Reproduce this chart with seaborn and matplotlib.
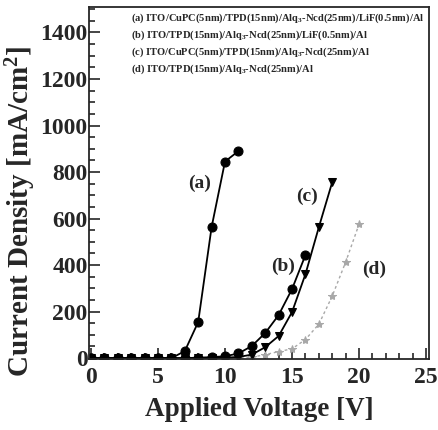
import matplotlib
matplotlib.use("Agg")
import matplotlib.pyplot as plt
from matplotlib.ticker import MultipleLocator
import seaborn as sns

# data (V, mA/cm^2)
volt_a = [0, 1, 2, 3, 4, 5, 6, 7, 8, 9, 10, 11]
cur_a = [0, 0, 0, 0, 0, 0, 0, 30, 155, 563, 845, 890]

volt_b = [0, 1, 2, 3, 4, 5, 6, 7, 8, 9, 10, 11, 12, 13, 14, 15, 16]
cur_b = [0, 0, 0, 0, 0, 0, 0, 0, 2, 4, 8, 20, 52, 108, 185, 297, 443]

volt_c = [0, 1, 2, 3, 4, 5, 6, 7, 8, 9, 10, 11, 12, 13, 14, 15, 16, 17, 18]
cur_c = [0, 0, 0, 0, 0, 0, 0, 0, 0, 0, 2, 5, 15, 47, 95, 198, 361, 563, 757]

volt_d = [0, 1, 2, 3, 4, 5, 6, 7, 8, 9, 10, 11, 12, 13, 14, 15, 16, 17, 18, 19, 20]
cur_d = [0, 0, 0, 0, 0, 0, 0, 0, 0, 0, 0, 0, 4, 15, 28, 40, 80, 146, 267, 413, 576]

legend_lines = [
    r"(a) ITO/CuPC(5nm)/TPD(15nm)/Alq$_3$-Ncd(25nm)/LiF(0.5nm)/Al",
    r"(b) ITO/TPD(15nm)/Alq$_3$-Ncd(25nm)/LiF(0.5nm)/Al",
    r"(c) ITO/CuPC(5nm)/TPD(15nm)/Alq$_3$-Ncd(25nm)/Al",
    r"(d) ITO/TPD(15nm)/Alq$_3$-Ncd(25nm)/Al",
]
curve_labels = ["(a)", "(b)", "(c)", "(d)"]
label_pos = [(8.1, 753), (14.3, 396), (16.1, 697), (21.1, 383)]

sns.set_style("ticks")
plt.rcParams["font.family"] = ["Liberation Serif", "DejaVu Serif"]
plt.rcParams["font.weight"] = "bold"
plt.rcParams["axes.labelweight"] = "bold"
plt.rcParams["mathtext.fontset"] = "custom"
plt.rcParams["mathtext.rm"] = "Liberation Serif:bold"
plt.rcParams["mathtext.it"] = "Liberation Serif:bold"
plt.rcParams["mathtext.bf"] = "Liberation Serif:bold"

fig = plt.figure(figsize=(4.38, 4.30), dpi=100)
ax = fig.add_axes([0.203, 0.165, 0.776, 0.819])

sns.lineplot(x=volt_d, y=cur_d, ax=ax, color="#a8a8a8", linestyle=(0, (2, 2)),
             marker="*", markersize=6, markeredgecolor="#a8a8a8", linewidth=1)
sns.lineplot(x=volt_c, y=cur_c, ax=ax, color="black", marker="v",
             markersize=6, markeredgecolor="black", linewidth=1.3)
sns.lineplot(x=volt_b, y=cur_b, ax=ax, color="black", marker="o",
             markersize=6.5, markeredgecolor="black", linewidth=1.3)
sns.lineplot(x=volt_a, y=cur_a, ax=ax, color="black", marker="o",
             markersize=6.5, markeredgecolor="black", linewidth=1.3)

for lab, (px, py) in zip(curve_labels, label_pos):
    ax.text(px, py, lab, fontsize=14, fontweight="bold", ha="center", va="center")

for i, line in enumerate(legend_lines):
    ax.text(0.124, 0.969 - i * 0.0485, line, transform=ax.transAxes,
            fontsize=7.6, fontweight="bold", ha="left", va="center")

ax.set_xlim(-0.15, 25.2)
ax.set_ylim(-4, 1510)
ax.xaxis.set_major_locator(MultipleLocator(5))
ax.xaxis.set_minor_locator(MultipleLocator(1))
ax.yaxis.set_major_locator(MultipleLocator(200))
ax.yaxis.set_minor_locator(MultipleLocator(50))
ax.tick_params(which="both", direction="in", top=False, right=False,
               labelsize=17, width=1.2)
ax.tick_params(which="major", length=8)
ax.tick_params(which="minor", length=4)
ax.tick_params(axis="x", which="major", pad=6)
ax.tick_params(axis="y", which="major", pad=1)
for lbl in ax.get_xticklabels() + ax.get_yticklabels():
    lbl.set_fontweight("bold")
for sp in ax.spines.values():
    sp.set_linewidth(1.3)
    sp.set_visible(True)

ax.set_xlabel("Applied Voltage [V]", fontsize=19.5, fontweight="bold", labelpad=6)
ax.set_ylabel(r"Current Density [mA/cm$^2$]", fontsize=21, fontweight="bold")
ax.yaxis.set_label_coords(-0.15, 0.42)

fig.savefig("out.png", dpi=100)
